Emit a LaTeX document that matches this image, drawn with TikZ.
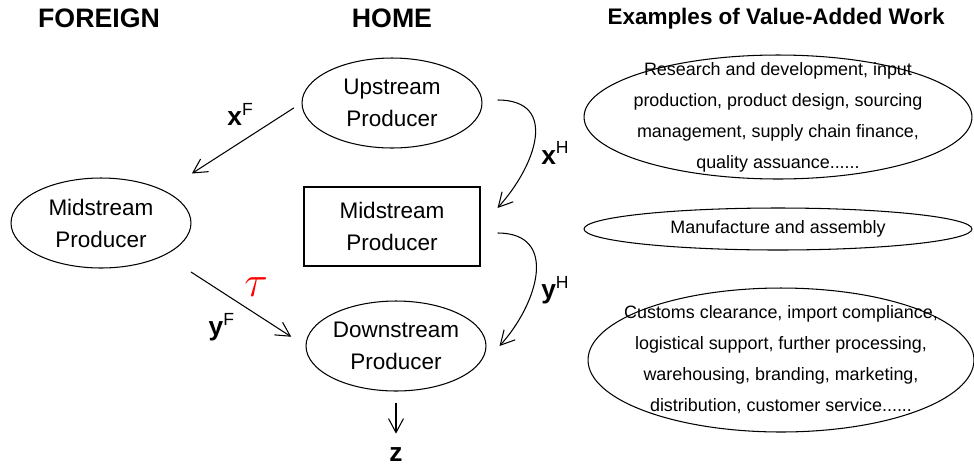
\documentclass[tikz,border=0pt]{standalone}
\usepackage{fontspec}
\setmainfont{Liberation Sans}
\usetikzlibrary{arrows.meta, calc, shapes.geometric}
\tikzset{prod/.style = {ellipse, draw, inner sep=0pt, minimum width=3.6cm, minimum height=1.8cm, align=center, font=\fontsize{12.8}{18.2}\selectfont}}
\tikzset{work/.style = {align=center, font=\fontsize{10.2}{17.6}\selectfont}}
\tikzset{head/.style = {font=\fontsize{15.2}{18}\selectfont\bfseries}}
\tikzset{flow/.style = {-{Straight Barb[length=2.8mm,width=3mm]}}}
\tikzset{var/.style = {font=\fontsize{15}{18}\selectfont}}
\newcommand{\flowvar}[2]{\textbf{#1}\raisebox{0.75ex}{\fontsize{10}{10}\selectfont #2}}

\begin{document}
\begin{tikzpicture}[x=0.02cm, y=-0.02cm, line width=0.6pt]
\useasboundingbox (0,0) rectangle (974,471);
\node [head] (foreign) at (99,18) {FOREIGN};
\node [head] (home) at (392,18) {HOME};
\node [head, font=\fontsize{12.8}{15}\selectfont\bfseries, anchor=base] (examples) at (776,24) {Examples of Value-Added Work};

\node [prod] (foreignmid) at (101,223) {Midstream\\Producer};
\node [prod] (upstream) at (392,103) {Upstream\\Producer};
\node [draw, rectangle, minimum width=3.52cm, minimum height=1.58cm, align=center, font=\fontsize{12.8}{18.2}\selectfont] (homemid) at (392,226.5) {Midstream\\Producer};
\node [prod] (downstream) at (396,346) {Downstream\\Producer};
\node [var] (zout) at (396,455) {\textbf{z}};

% foreign leg of the chain
\draw [flow, shorten <=0.18cm, shorten >=0.64cm] (upstream.west) -- (foreignmid.north east)
  node [var, pos=0.45, above=6pt] {\flowvar{x}{F}};
\draw [flow, shorten <=0.62cm, shorten >=0.34cm] (foreignmid.south east) -- (downstream.west)
  node [var, pos=0.55, below left=1pt] {\flowvar{y}{F}}
  node [pos=0.52, anchor=south west, text=red, font=\fontsize{24}{24}\selectfont] {$\tau$};

% home leg of the chain
\coordinate (xh1) at ($(upstream.east)+(15,-3)$);
\coordinate (xh2) at ($(homemid.east)+(17,-18.5)$);
\coordinate (yh1) at ($(homemid.east)+(17,6.5)$);
\coordinate (yh2) at ($(downstream.east)+(13,0)$);
\draw [flow] (xh1) .. controls +(62,0) and +(38,-42) .. (xh2);
\draw [flow] (yh1) .. controls +(62,0) and +(38,-42) .. (yh2);
\node [var] at (555,153) {\flowvar{x}{H}};
\node [var] at (555,290) {\flowvar{y}{H}};
\draw [flow, shorten <=0.22cm, shorten >=0.16cm] (downstream.south) -- (zout.north);

\node [work] (ex1) at (778,117) {Research and development, input\\production, product design, sourcing\\management, supply chain finance,\\quality assuance......};
\node [work] (ex2) at (778,229) {Manufacture and assembly};
\node [work] (ex3) at (781,360) {Customs clearance, import compliance,\\logistical support, further processing,\\warehousing, branding, marketing,\\distribution, customer service......};
\draw (ex1) ellipse [x radius=3.88cm, y radius=1.24cm];
\draw (ex2) ellipse [x radius=3.88cm, y radius=0.42cm];
\draw (ex3) ellipse [x radius=3.86cm, y radius=1.44cm];
\end{tikzpicture}
\end{document}
